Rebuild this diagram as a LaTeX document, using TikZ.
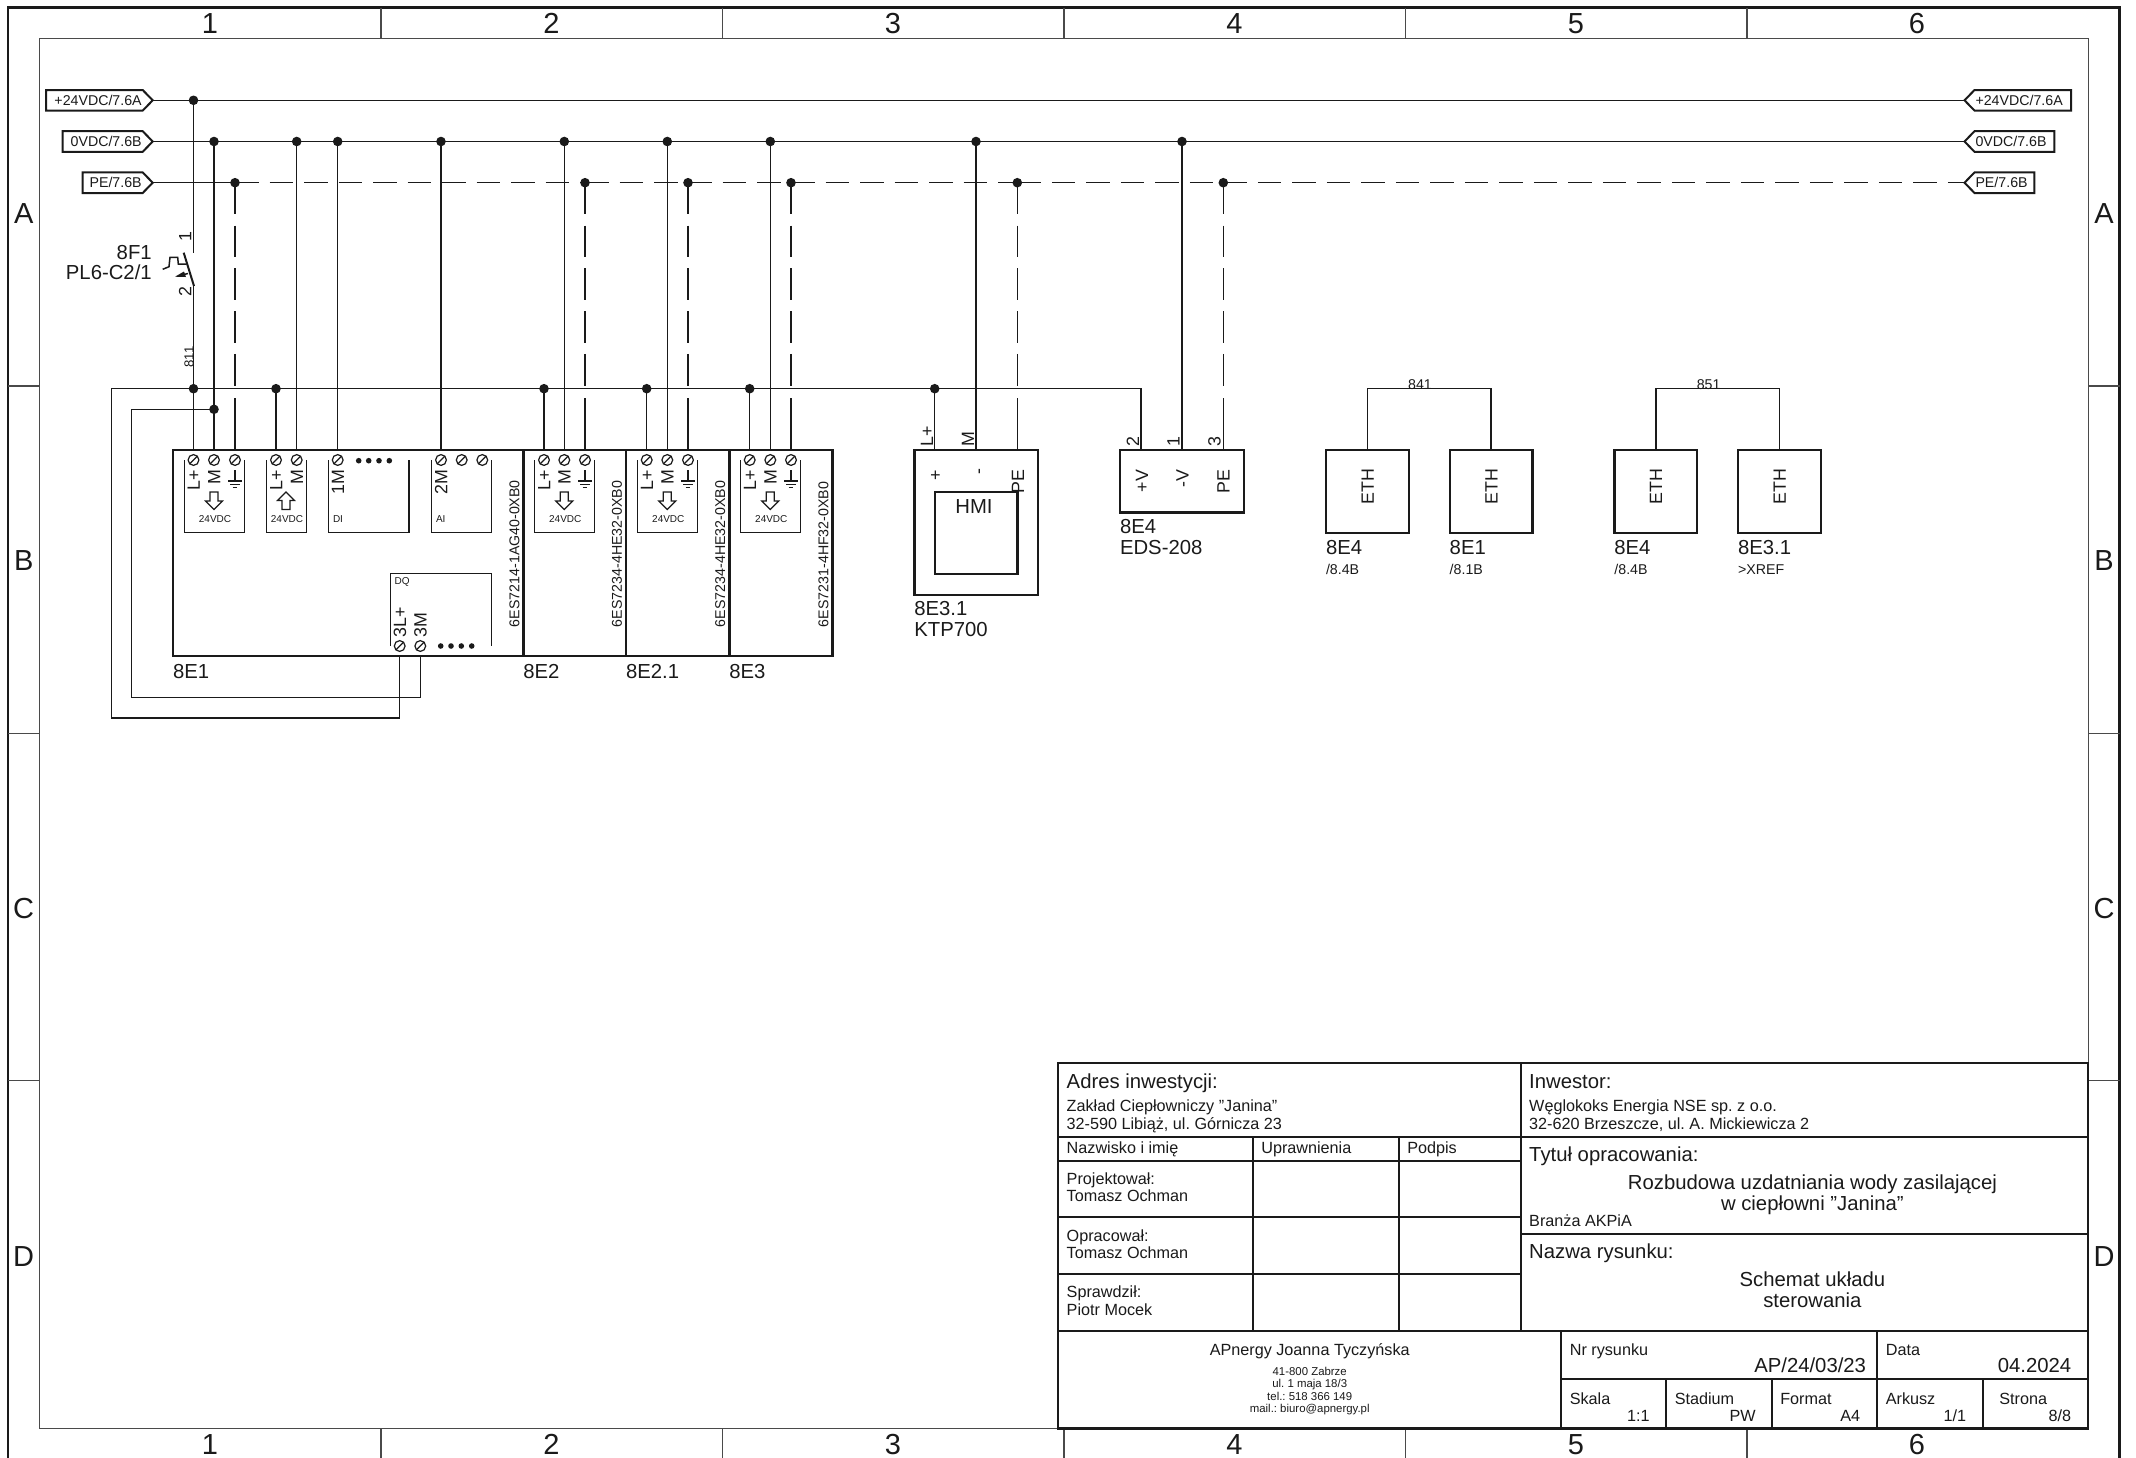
\documentclass[tikz,border=0pt]{standalone}
\usepackage{fontspec}
\setmainfont{Liberation Sans}
\newcommand{\ftA}{\fontsize{10.15}{12}\selectfont\frenchspacing}
\newcommand{\ftB}{\fontsize{8.1}{10}\selectfont\frenchspacing}
\newcommand{\ftC}{\fontsize{7.1}{8.5}\selectfont\frenchspacing}
\newcommand{\ftD}{\fontsize{5.7}{7}\selectfont\frenchspacing}
\newcommand{\ftE}{\fontsize{5}{6}\selectfont}
\newcommand{\ftF}{\fontsize{14.5}{16}\selectfont}
\newcommand{\ftV}{\fontsize{8.9}{10}\selectfont}
\definecolor{ink}{HTML}{1A1A1A}
\definecolor{framegrey}{HTML}{4A4A4A}
\tikzset{
  x=0.5pt,y=-0.5pt,
  every node/.style={inner sep=0pt,outer sep=0pt,text=ink},
  fa/.style={font=\ftA,text height=7.3pt,text depth=0pt},
  fb/.style={font=\ftB,text height=5.8pt,text depth=0pt},
  fc/.style={font=\ftC,text height=5.1pt,text depth=0pt},
  fd/.style={font=\ftD,text height=4.1pt,text depth=0pt},
  fe/.style={font=\ftE,text height=3.6pt,text depth=0pt},
  fv/.style={font=\ftV,text height=6.4pt,text depth=0pt},
  fbig/.style={font=\ftF,text height=10.4pt,text depth=0pt},
  wire/.style={draw=ink,line width=0.75pt},
  pewire/.style={draw=ink,line width=0.75pt,dash pattern=on 15.8pt off 5.6pt},
  pehwire/.style={draw=ink,line width=0.75pt,dash pattern=on 11.75pt off 5.5pt},
  frameline/.style={draw=framegrey,line width=0.65pt},
  frameouter/.style={draw=ink,line width=1.3pt},
  boxthick/.style={draw=ink,line width=1.2pt},
  boxthin/.style={draw=ink,line width=0.6pt},
  tb/.style={draw=ink,line width=1.1pt},
  tbthin/.style={draw=ink,line width=0.9pt},
  tagbox/.style={draw=ink,line width=1pt,fill=white},
  tl/.style={anchor=west,fa},
  tlr/.style={anchor=east,fa},
  ts/.style={anchor=west,fb},
  tr/.style={anchor=east,fb},
  vlab/.style={rotate=90,fv},
  partno/.style={rotate=90,anchor=west,fc},
  jdot/.style={circle,fill=ink,minimum size=4.8pt},
  smalldot/.style={circle,fill=ink,minimum size=2.8pt},
}
\newcommand{\term}[2]{%
  \draw[boxthin] (#1,#2) circle (2.7pt);
  \draw[boxthin] (#1-3.9,#2+3.9) -- (#1+3.9,#2-3.9);}
\newcommand{\gnd}[2]{%
  \draw[boxthin] (#1,#2) -- (#1,#2+11);
  \draw[boxthin] (#1-7,#2+11) -- (#1+7,#2+11);
  \draw[draw=ink,line width=0.5pt] (#1-4.6,#2+14) -- (#1+4.6,#2+14);
  \draw[draw=ink,line width=0.5pt] (#1-2.3,#2+17) -- (#1+2.3,#2+17);}
\newcommand{\downarr}[1]{%
  \draw[boxthin] (#1-4,492) -- (#1+4,492) -- (#1+4,501) -- (#1+8.5,501) -- (#1,509.5) -- (#1-8.5,501) -- (#1-4,501) -- cycle;}
\newcommand{\uparr}[1]{%
  \draw[boxthin] (#1-4,509.5) -- (#1+4,509.5) -- (#1+4,500.5) -- (#1+8.5,500.5) -- (#1,492) -- (#1-8.5,500.5) -- (#1-4,500.5) -- cycle;}
\newcommand{\opentop}[2]{%
  \draw[boxthin] (#1,460) -- (#1,532.7) -- (#2,532.7) -- (#2,460);}
\newcommand{\sfour}[4]{% three-terminal power group: L+ x, M x, PE x, box left
  \opentop{#4}{#4+60.3}
  \term{#1}{460}\term{#2}{460}\term{#3}{460}
  \node[vlab,anchor=east] at (#1,470) {L+};
  \node[vlab,anchor=east] at (#2,470) {M};
  \gnd{#3}{470}
  \downarr{#2}
  \node[fe] at (#2+1,519) {24VDC};}
\begin{document}
\begin{tikzpicture}
\useasboundingbox (0,0) rectangle (2136,1457);
% --- frame ---
\draw[frameouter] (8,7.5) rectangle (2119.5,1470);
\draw[frameline] (39.5,38.4) rectangle (2088.5,1428.5);
\foreach \xx in {381,722.5,1064,1405.5,1747}{
  \draw[frameline] (\xx,7.5) -- (\xx,38.4);
  \draw[frameline] (\xx,1428.5) -- (\xx,1470);}
\foreach \yy in {386,733.4,1080.8}{
  \draw[frameline] (8,\yy) -- (39.5,\yy);
  \draw[frameline] (2088.5,\yy) -- (2119.5,\yy);}
\foreach \xx/\tt in {210/1,551.5/2,893/3,1234.5/4,1576/5,1917/6}{
  \node[fbig] (ct\tt) at (\xx,23) {\tt};
  \node[fbig] (cb\tt) at (\xx,1444) {\tt};}
\foreach \yy/\tt in {213/A,560/B,908/C,1256/D}{
  \node[fbig] (rl\tt) at (23.7,\yy) {\tt};
  \node[fbig] (rr\tt) at (2104,\yy) {\tt};}
% --- buses ---
\coordinate (b24l) at (152.7,100.3); \coordinate (b24r) at (1964.5,100.3);
\coordinate (b0l) at (152.7,141.5); \coordinate (b0r) at (1964.5,141.5);
\coordinate (bpl) at (152.7,182.7); \coordinate (bpr) at (1964.5,182.7);
\draw[wire] (b24l) -- (b24r);
\draw[wire] (b0l) -- (b0r);
\draw[wire] (bpl) -- (235,182.7);
\foreach \xa/\xb in {235/585,585/688,688/791,791/1017.3,1017.3/1223.3,1223.3/1964.5}{
  \draw[pehwire] (\xa,182.7) -- (\xb,182.7);}
% tags
\draw[tagbox] (46,90) -- (142.7,90) -- (152.7,100.3) -- (142.7,110.6) -- (46,110.6) -- cycle;
\node[fc,anchor=east] (tag1) at (141.7,100.3) {+24VDC/7.6A};
\draw[tagbox] (62.7,131.2) -- (142.7,131.2) -- (152.7,141.5) -- (142.7,151.8) -- (62.7,151.8) -- cycle;
\node[fc,anchor=east] (tag2) at (141.7,141.5) {0VDC/7.6B};
\draw[tagbox] (82.7,172.4) -- (142.7,172.4) -- (152.7,182.7) -- (142.7,193) -- (82.7,193) -- cycle;
\node[fc,anchor=east] (tag3) at (141.7,182.7) {PE/7.6B};
\draw[tagbox] (2071,90) -- (1974.5,90) -- (1964.5,100.3) -- (1974.5,110.6) -- (2071,110.6) -- cycle;
\node[fc,anchor=west] (tag4) at (1975.5,100.3) {+24VDC/7.6A};
\draw[tagbox] (2054.3,131.2) -- (1974.5,131.2) -- (1964.5,141.5) -- (1974.5,151.8) -- (2054.3,151.8) -- cycle;
\node[fc,anchor=west] (tag5) at (1975.5,141.5) {0VDC/7.6B};
\draw[tagbox] (2034.3,172.4) -- (1974.5,172.4) -- (1964.5,182.7) -- (1974.5,193) -- (2034.3,193) -- cycle;
\node[fc,anchor=west] (tag6) at (1975.5,182.7) {PE/7.6B};
% --- 0V verticals ---
\foreach \xx in {214,296.7,337.7,441,564.3,667.3,770.3,976,1182}{
  \draw[wire] (\xx,141.5) -- (\xx,450);
  \node[jdot] at (\xx,141.5) {};}
% --- PE verticals ---
\foreach \xx in {235,585,688,791,1017.3,1223.3}{
  \draw[pewire] (\xx,182.7) -- (\xx,386);
  \draw[wire] (\xx,398) -- (\xx,450);
  \node[jdot] at (\xx,182.7) {};}
% --- breaker ---
\node[jdot] (d24) at (193.5,100.3) {};
\draw[wire] (d24) -- (193.5,252.7);
\draw[wire] (193.5,286) -- (193.5,450);
\draw[draw=ink,line width=1pt] (183.7,252.7) -- (194,286);
\draw[wire] (162.7,269.3) -- (169,266.7) -- (170,257.3) -- (177.7,257.3) -- (178.3,264) -- (186.7,264);
\fill[ink] (175,276.7) -- (184,271.5) -- (186,277) -- cycle;
\draw[wire] (184,274.5) -- (188,273.5);
\node[vlab] (p1) at (185,236.7) {1};
\node[vlab] (p2) at (185,291.7) {2};
\node[rotate=90,font=\fontsize{6.6}{8}\selectfont,text height=4.7pt,text depth=0pt] (w811) at (189,357) {811};
\node[tlr] (n8f1) at (151.7,252.3) {8F1};
\node[tlr] (npl) at (151.7,272.3) {PL6-C2/1};
% --- rails ---
\draw[wire] (399.7,656) -- (399.7,718) -- (111.3,718) -- (111.3,388.7) -- (1141,388.7) -- (1141,450);
\draw[wire] (420.3,656) -- (420.3,697.3) -- (131.7,697.3) -- (131.7,409.3) -- (214,409.3);
\foreach \xx in {276,544,646.7,749.7,934.7}{
  \draw[wire] (\xx,388.7) -- (\xx,450);
  \node[jdot] at (\xx,388.7) {};}
\node[jdot] at (193.5,388.7) {};
\node[jdot] at (214,409.3) {};
% --- modules ---
\draw[boxthick] (173,450) rectangle (523.3,656);
\draw[boxthick] (523.3,450) rectangle (626,656);
\draw[boxthick] (626,450) rectangle (729.3,656);
\draw[boxthick] (729.3,450) rectangle (832.3,656);
\sfour{193.5}{214}{235}{184.3}
\sfour{544}{564.3}{585}{534.3}
\sfour{646.7}{667.3}{688}{637.3}
\sfour{749.7}{770.3}{791}{740.3}
% second group of 8E1
\opentop{266.7}{306.3}
\term{276}{460}\term{296.7}{460}
\node[vlab,anchor=east] at (276,470) {L+};
\node[vlab,anchor=east] at (296.7,470) {M};
\uparr{286}
\node[fe] at (287,519) {24VDC};
% DI
\opentop{328.3}{409}
\term{337.7}{460}
\node[vlab,anchor=east] at (337.7,470) {1M};
\foreach \xx in {358.7,368.7,379,389.3}{\node[smalldot] at (\xx,460.7) {};}
\node[anchor=west,fe] at (333,519) {DI};
% AI
\opentop{431.3}{491.3}
\term{441}{460}\term{461.7}{460}\term{482.3}{460}
\node[vlab,anchor=east] at (441,470) {2M};
\node[anchor=west,fe] at (436,519) {AI};
% DQ
\draw[boxthin] (390.3,646) -- (390.3,573.7) -- (491.3,573.7) -- (491.3,646);
\node[anchor=west,fe] at (394.7,580.7) {DQ};
\term{399.7}{646}\term{420.3}{646}
\node[vlab,anchor=west] at (399.7,637) {3L+};
\node[vlab,anchor=west] at (420.3,637) {3M};
\foreach \xx in {440.7,451,461.3,471.7}{\node[smalldot] at (\xx,646) {};}
% part numbers
\node[partno] (pn1) at (514.3,627) {6ES7214-1AG40-0XB0};
\node[partno] (pn2) at (616.7,627) {6ES7234-4HE32-0XB0};
\node[partno] (pn3) at (720,627) {6ES7234-4HE32-0XB0};
\node[partno] (pn4) at (823.3,627) {6ES7231-4HF32-0XB0};
\node[tl] (l1) at (173,670.7) {8E1};
\node[tl] (l2) at (523.3,670.7) {8E2};
\node[tl] (l3) at (626,670.7) {8E2.1};
\node[tl] (l4) at (729.3,670.7) {8E3};
% --- KTP ---
\draw[boxthick] (914.3,450) rectangle (1038,594.7);
\draw[boxthick] (934.7,491.7) rectangle (1017.3,574);
\node[vlab,anchor=west] at (926.7,446.7) {L+};
\node[vlab,anchor=west] at (967.7,446.7) {M};
\node[vlab] at (935,475) {+};
\node[vlab] at (977.7,472) {-};
\node[vlab,anchor=east] at (1017.7,470) {PE};
\node[fa] (hmi) at (974,505.7) {HMI};
\node[tl] (k1) at (914.3,608) {8E3.1};
\node[tl] (k2) at (914.3,629) {KTP700};
% --- EDS ---
\draw[boxthick] (1120,450) rectangle (1244,512.3);
\node[vlab,anchor=east] at (1141.7,470) {+V};
\node[vlab,anchor=east] at (1182.3,470) {-V};
\node[vlab,anchor=east] at (1223.3,470) {PE};
\node[vlab,anchor=west] at (1132.7,446.7) {2};
\node[vlab,anchor=west] at (1173.3,446.7) {1};
\node[vlab,anchor=west] at (1214.3,446.7) {3};
\node[tl] (e1) at (1120,526) {8E4};
\node[tl] (e2) at (1120,546.7) {EDS-208};
% --- ETH ---
\foreach \xa in {1326,1449.7,1614.4,1738}{
  \draw[boxthick] (\xa,450) rectangle (\xa+82.7,533);
  \node[vlab] at (\xa+41.4,486.7) {ETH};}
\draw[wire] (1367.4,450) -- (1367.4,388.7) -- (1491.1,388.7) -- (1491.1,450);
\draw[wire] (1655.8,450) -- (1655.8,388.7) -- (1779.4,388.7) -- (1779.4,450);
\node[fc,anchor=south] (w841) at (1420,389) {841};
\node[fc,anchor=south] (w851) at (1708.6,389) {851};
\node[tl] at (1326,546.7) {8E4};
\node[tl] at (1449.7,546.7) {8E1};
\node[tl] at (1614.4,546.7) {8E4};
\node[tl] at (1738,546.7) {8E3.1};
\node[anchor=west,fc] at (1326,569) {/8.4B};
\node[anchor=west,fc] at (1449.7,569) {/8.1B};
\node[anchor=west,fc] at (1614.4,569) {/8.4B};
\node[anchor=west,fc] at (1738,569) {>XREF};
% --- title block ---
\draw[tb,fill=white] (1058.3,1063.3) rectangle (2088.3,1428.5);
\draw[tbthin] (1520.7,1063.3) -- (1520.7,1331);
\draw[tbthin] (1058.3,1136.7) -- (2088.3,1136.7);
\draw[tb] (1058.3,1160.7) -- (1520.7,1160.7);
\draw[tbthin] (1058.3,1217.3) -- (1520.7,1217.3);
\draw[tbthin] (1058.3,1274) -- (1520.7,1274);
\draw[tb] (1058.3,1331) -- (2088.3,1331);
\draw[tb] (1252.7,1136.7) -- (1252.7,1331);
\draw[tb] (1399,1136.7) -- (1399,1331);
\draw[tb] (1520.7,1233.7) -- (2088.3,1233.7);
\draw[tb] (1561.3,1331) -- (1561.3,1428.5);
\draw[tb] (1877.3,1331) -- (1877.3,1428.5);
\draw[tb] (1561.3,1379.3) -- (2088.3,1379.3);
\draw[tb] (1666.3,1379.3) -- (1666.3,1428.5);
\draw[tb] (1771.8,1379.3) -- (1771.8,1428.5);
\draw[tb] (1982.8,1379.3) -- (1982.8,1428.5);
\node[tl] at (1066.7,1081) {Adres inwestycji:};
\node[ts] at (1066.7,1105.7) {Zakład Ciepłowniczy "Janina"};
\node[ts] at (1066.7,1123.3) {32-590 Libiąż, ul. Górnicza 23};
\node[ts] at (1066.7,1147.3) {Nazwisko i imię};
\node[ts] at (1261.3,1147.3) {Uprawnienia};
\node[ts] at (1407.3,1147.3) {Podpis};
\node[ts] at (1066.7,1178.7) {Projektował:};
\node[ts] at (1066.7,1196) {Tomasz Ochman};
\node[ts] at (1066.7,1235.3) {Opracował:};
\node[ts] at (1066.7,1252.7) {Tomasz Ochman};
\node[ts] at (1066.7,1292) {Sprawdził:};
\node[ts] at (1066.7,1309.3) {Piotr Mocek};
\node[fb] at (1309.7,1350) {APnergy Joanna Tyczyńska};
\node[fd] at (1309.7,1371.3) {41-800 Zabrze};
\node[fd] at (1309.7,1383.7) {ul. 1 maja 18/3};
\node[fd] at (1309.7,1396) {tel.: 518 366 149};
\node[fd] at (1309.7,1408.3) {mail.: biuro@apnergy.pl};
\node[tl] at (1529.2,1081) {Inwestor:};
\node[ts] at (1529.2,1105.7) {Węglokoks Energia NSE sp. z o.o.};
\node[ts] at (1529.2,1123.3) {32-620 Brzeszcze, ul. A. Mickiewicza 2};
\node[tl] at (1529.2,1154) {Tytuł opracowania:};
\node[fa] at (1812.4,1181.7) {Rozbudowa uzdatniania wody zasilającej};
\node[fa] at (1812.4,1203.3) {w ciepłowni "Janina"};
\node[ts] at (1529.2,1221) {Branża AKPiA};
\node[tl] at (1529.2,1251.3) {Nazwa rysunku:};
\node[fa] at (1812.4,1278.7) {Schemat układu};
\node[fa] at (1812.4,1300) {sterowania};
\node[ts] at (1569.8,1350) {Nr rysunku};
\node[tlr] at (1866,1365) {AP/24/03/23};
\node[ts] at (1885.8,1350) {Data};
\node[tlr] at (2071.2,1365) {04.2024};
\node[ts] at (1569.8,1398.7) {Skala};
\node[tr] at (1649.7,1415.7) {1:1};
\node[ts] at (1674.8,1398.7) {Stadium};
\node[tr] at (1755.6,1415.7) {PW};
\node[ts] at (1780.3,1398.7) {Format};
\node[tr] at (1860.2,1415.7) {A4};
\node[ts] at (1885.8,1398.7) {Arkusz};
\node[tr] at (1966,1415.7) {1/1};
\node[ts] at (1999.3,1398.7) {Strona};
\node[tr] at (2071.2,1415.7) {8/8};
\end{tikzpicture}
\end{document}
